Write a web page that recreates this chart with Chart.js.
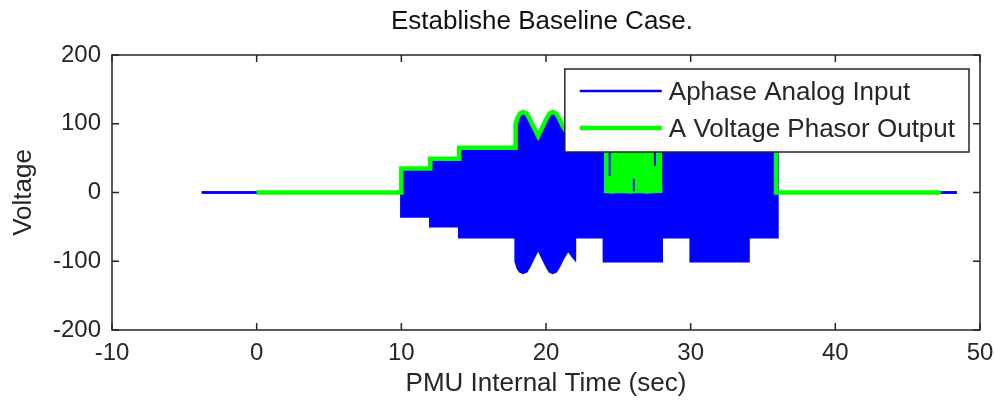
<!DOCTYPE html>
<html>
<head>
<meta charset="utf-8">
<title>Establishe Baseline Case.</title>
<script src="https://cdn.jsdelivr.net/npm/chart.js@4/dist/chart.umd.min.js"></script>
<style>
  html, body { margin: 0; padding: 0; background: #ffffff; }
  #wrap { width: 994px; height: 402px; }
</style>
</head>
<body>
<div id="wrap"><canvas id="plot" width="994" height="402"></canvas></div>
<script>
// Phase-A analog input: peak envelope of the 60 Hz waveform (V) against PMU time (s)
const analogTime = [-3.8, 10, 10, 12, 12, 14, 14, 17.9, 17.9, 18.05, 18.2, 18.42, 18.65, 18.85, 19.1, 19.46,
  19.8, 20.05, 20.25, 20.46, 20.7, 20.9, 21.15, 21.54, 21.8, 22.0, 22.0, 24, 24, 28, 28, 30, 30, 34, 34, 36, 36, 48.4];
const analogPeak = [0, 0, 35, 35, 49, 49, 65, 65, 100, 110, 115, 117, 115, 108, 97, 82,
  97, 108, 115, 117, 115, 108, 97, 83, 92, 97, 65, 65, 100, 100, 65, 65, 100, 100, 65, 65, 0, 0];

// A voltage phasor magnitude reported by the PMU
const phasorTime = [0, 10, 10, 12, 12, 14, 14, 17.9, 17.9, 18.05, 18.2, 18.42, 18.65, 18.85, 19.1, 19.46,
  19.8, 20.05, 20.25, 20.46, 20.7, 20.9, 21.15, 21.54, 21.8, 22.0, 22.0, 24, 24, 28, 28, 30, 30, 34, 34, 35.9, 35.9, 47.3];
const phasorMagnitude = [0, 0, 35, 35, 49, 49, 65, 65, 100, 110, 115, 117, 115, 108, 97, 82,
  97, 108, 115, 117, 115, 108, 97, 83, 92, 97, 65, 65, 100, 100, 65, 65, 100, 100, 65, 65, 0, 0];

// Between 24 s and 28 s the phasor output swings rapidly between these bounds
const swingTime = [24, 24.6, 25.2, 25.8, 26.4, 27.0, 27.6, 28.05];
const swingLow = [2.5, 1.5, 2.5, 1.5, 2.5, 1.5, 2.5, 2.5];
const swingHigh = [100, 100, 100, 100, 100, 100, 100, 100];

// Short stretches where the analog trace shows through the swinging phasor output
const gapTime = [24.4, 24.4, 24.4, 26.07, 26.07, 26.07, 27.53, 27.53];
const gapValue = [100, 24, null, 20, 2, null, 100, 39];

const xTicks = [-10, 0, 10, 20, 30, 40, 50];
const yTicks = [-200, -100, 0, 100, 200];

const titleText = 'Establishe Baseline Case.';
const xLabel = 'PMU Internal Time (sec)';
const yLabel = 'Voltage';
const seriesNames = ['Aphase Analog Input', 'A Voltage Phasor Output'];

const BLUE = '#0000ff';
const GREEN = '#00ff00';
const INK = '#262626';
const FONT = '"Liberation Sans", Arial, Helvetica, sans-serif';

const pts = (xs, ys) => xs.map((t, i) => ({ x: t, y: ys[i] }));

Chart.defaults.font.family = FONT;
Chart.defaults.color = INK;

// Axes box with inward tick marks on all four sides
const axesFrame = {
  id: 'axesFrame',
  afterDatasetsDraw(chart) {
    const { ctx, chartArea: a, scales: { x, y } } = chart;
    const len = 7;
    ctx.save();
    ctx.strokeStyle = INK;
    ctx.lineWidth = 1.5;
    ctx.beginPath();
    x.ticks.forEach(t => {
      const px = x.getPixelForValue(t.value);
      ctx.moveTo(px, a.bottom); ctx.lineTo(px, a.bottom - len);
      ctx.moveTo(px, a.top); ctx.lineTo(px, a.top + len);
    });
    y.ticks.forEach(t => {
      const py = y.getPixelForValue(t.value);
      ctx.moveTo(a.left, py); ctx.lineTo(a.left + len, py);
      ctx.moveTo(a.right, py); ctx.lineTo(a.right - len, py);
    });
    ctx.stroke();
    ctx.strokeRect(a.left, a.top, a.right - a.left, a.bottom - a.top);
    ctx.restore();
  }
};

// Boxed legend in the upper right corner of the axes, plus the title above them
const boxLegend = {
  id: 'boxLegend',
  afterDraw(chart) {
    const { ctx, chartArea: a } = chart;
    const entries = chart.data.datasets
      .filter(d => d.inLegend)
      .sort((p, q) => seriesNames.indexOf(p.label) - seriesNames.indexOf(q.label))
      .map(d => ({ label: d.label, color: d.borderColor, width: d.borderWidth }));
    ctx.save();
    ctx.font = '26px ' + FONT;
    const textW = Math.max(...entries.map(e => ctx.measureText(e.label).width));
    const right = a.right - 11;
    const top = a.top + 14;
    const w = 104 + textW + 14;
    const left = right - w;
    const h = 83;
    ctx.fillStyle = '#ffffff';
    ctx.fillRect(left, top, w, h);
    ctx.strokeStyle = INK;
    ctx.lineWidth = 1.5;
    ctx.strokeRect(left, top, w, h);
    entries.forEach((e, i) => {
      const yy = top + 22 + i * 37;
      ctx.strokeStyle = e.color;
      ctx.lineWidth = e.width;
      ctx.beginPath();
      ctx.moveTo(left + 15, yy);
      ctx.lineTo(left + 97, yy);
      ctx.stroke();
      ctx.fillStyle = INK;
      ctx.textAlign = 'left';
      ctx.textBaseline = 'middle';
      ctx.fillText(e.label, left + 104, yy + 2);
    });
    ctx.fillStyle = '#111111';
    ctx.textAlign = 'center';
    ctx.textBaseline = 'middle';
    ctx.fillText(titleText, (a.left + a.right) / 2 - 4, 22);
    ctx.restore();
  }
};

// Tick labels may overhang the axes box; the outer layout padding already leaves room
const noOverhang = s => { s.paddingLeft = 0; s.paddingRight = 0; s.paddingTop = 0; s.paddingBottom = 0; };

new Chart(document.getElementById('plot'), {
  type: 'line',
  data: {
    datasets: [
      { // analog trace seen through gaps in the phasor swings
        data: pts(gapTime, gapValue),
        borderColor: BLUE, backgroundColor: BLUE, borderWidth: 2,
        fill: false, order: 0
      },
      { // upper bound of phasor swings
        data: pts(swingTime, swingHigh),
        borderColor: GREEN, backgroundColor: GREEN, borderWidth: 4.5,
        fill: '+1', order: 1
      },
      { // lower bound of phasor swings
        data: pts(swingTime, swingLow),
        borderColor: GREEN, backgroundColor: GREEN, borderWidth: 4.5,
        fill: false, order: 2
      },
      {
        label: seriesNames[1], inLegend: true,
        data: pts(phasorTime, phasorMagnitude),
        borderColor: GREEN, backgroundColor: GREEN, borderWidth: 4.5,
        fill: false, order: 3
      },
      {
        label: seriesNames[0], inLegend: true,
        data: pts(analogTime, analogPeak),
        borderColor: BLUE, backgroundColor: BLUE, borderWidth: 2.5,
        fill: '+1', order: 4
      },
      { // negative peaks of the analog waveform
        data: pts(analogTime, analogPeak.map(v => -v)),
        borderColor: BLUE, backgroundColor: BLUE, borderWidth: 2.5,
        fill: false, order: 5
      }
    ]
  },
  options: {
    responsive: false,
    animation: false,
    events: [],
    devicePixelRatio: 1,
    layout: { padding: { top: 55, right: 14, bottom: 0, left: 0 } },
    elements: {
      point: { radius: 0 },
      line: { tension: 0, borderJoinStyle: 'miter', borderCapStyle: 'butt' }
    },
    plugins: {
      legend: { display: false },
      title: { display: false },
      tooltip: { enabled: false }
    },
    scales: {
      x: {
        type: 'linear', min: -10, max: 50,
        afterBuildTicks: s => { s.ticks = xTicks.map(v => ({ value: v })); },
        afterFit: s => { s.height = 72; noOverhang(s); },
        grid: { display: false, drawTicks: false },
        border: { display: false },
        ticks: { font: { size: 24 }, color: INK, padding: 9, maxRotation: 0, autoSkip: false },
        title: { display: true, text: xLabel, font: { size: 26 }, color: INK, padding: { top: 0, bottom: 3 } }
      },
      y: {
        type: 'linear', min: -200, max: 200,
        afterBuildTicks: s => { s.ticks = yTicks.map(v => ({ value: v })); },
        afterFit: s => { s.width = 112; noOverhang(s); },
        grid: { display: false, drawTicks: false },
        border: { display: false },
        ticks: { font: { size: 24 }, color: INK, padding: 11 },
        title: { display: true, text: yLabel, font: { size: 26 }, color: INK, padding: { top: 8, bottom: 0 } }
      }
    }
  },
  plugins: [axesFrame, boxLegend]
});
</script>
</body>
</html>
